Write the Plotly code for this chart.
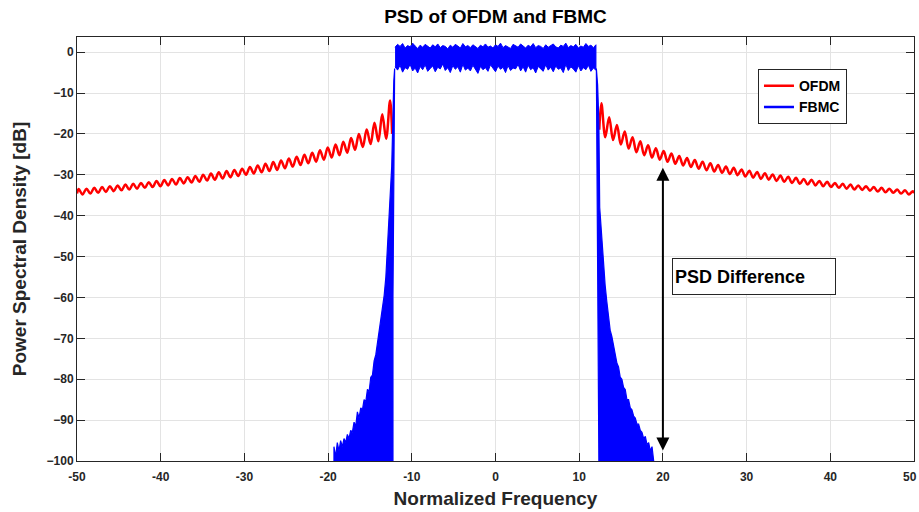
import numpy as np
import plotly.graph_objects as go

# ---------------- data ----------------
# OFDM sidelobe ripple: alternating maxima / minima (dB), listed outward from the band edge
ofdm_left_peaks = [-11.8, -15.2, -17.3, -18.9, -20.0, -21.0, -21.9, -22.6, -23.3, -24.0,
                   -24.6, -25.1, -25.6, -26.0, -26.5, -26.9, -27.3, -27.7, -28.1, -28.5,
                   -28.8, -29.1, -29.4, -29.7, -30.0, -30.3, -30.6, -30.8, -31.0, -31.3,
                   -31.5, -31.8, -32.0, -32.2, -32.4, -32.6, -32.8, -33.0, -33.2, -33.4,
                   -33.5]
ofdm_left_troughs = [-21.2, -21.8, -22.5, -23.2, -23.9, -24.6, -25.2, -25.8, -26.3, -26.8,
                     -27.2, -27.6, -28.0, -28.4, -28.8, -29.1, -29.4, -29.7, -30.0, -30.3,
                     -30.6, -30.9, -31.2, -31.4, -31.7, -31.9, -32.1, -32.4, -32.6, -32.8,
                     -33.0, -33.2, -33.4, -33.6, -33.8, -34.0, -34.2, -34.4, -34.6, -34.8]
ofdm_right_peaks = [-12.5, -15.9, -17.8, -19.4, -20.8, -21.8, -22.8, -23.5, -24.2, -24.8,
                    -25.4, -25.9, -26.4, -26.8, -27.2, -27.6, -28.0, -28.3, -28.7, -29.0,
                    -29.3, -29.6, -29.9, -30.2, -30.5, -30.7, -31.0, -31.2, -31.5, -31.7,
                    -32.0, -32.2, -32.4, -32.6, -32.8, -33.0, -33.2, -33.4, -33.6, -33.8,
                    -34.0]
ofdm_right_troughs = [-20.8, -21.5, -22.6, -23.6, -24.5, -25.2, -25.8, -26.3, -26.8, -27.3,
                      -27.7, -28.1, -28.5, -28.9, -29.2, -29.5, -29.8, -30.1, -30.4, -30.7,
                      -31.0, -31.2, -31.5, -31.7, -32.0, -32.2, -32.4, -32.6, -32.8, -33.0,
                      -33.2, -33.4, -33.6, -33.7, -33.9, -34.1, -34.3, -34.4, -34.6, -34.8]
# end points of each OFDM sidelobe branch: (frequency, dB)
ofdm_left_ends = [(-50.0, -34.6), (-12.35, -20.0)]
ofdm_right_ends = [(12.4, -19.0), (50.0, -34.5)]

# FBMC in-band fluctuation: upper and lower extent (dB) across the occupied band
fbmc_band_upper = [1.2, 1.9, 1.4, 2.1, 1.0, 1.6, 1.3, 2.2, 1.5, 0.9,
                   1.7, 1.2, 1.9, 1.4, 1.0, 1.8, 1.3, 2.0, 1.1, 1.6,
                   1.4, 0.8, 1.7, 1.2, 1.9, 1.5, 1.0, 2.1, 1.3, 1.6,
                   1.1, 1.8, 1.4, 0.9, 1.7, 1.3, 2.0, 1.2, 1.5, 1.0,
                   1.8, 1.4, 2.2, 1.1, 1.6, 1.3, 0.9, 1.9, 1.5, 1.2,
                   2.0, 1.4, 1.0, 1.7, 1.3, 2.1, 1.1, 1.6, 1.4, 0.9,
                   1.8, 1.2, 1.5, 2.0, 1.3, 1.0, 1.7, 1.4, 2.2, 1.1,
                   1.6, 1.3, 1.9, 1.0, 1.5, 1.2, 2.1, 1.4, 1.7, 1.1,
                   1.8]
fbmc_band_lower = [-3.6, -4.4, -3.2, -4.9, -3.8, -4.2, -3.0, -4.6, -3.9, -5.1,
                   -3.5, -4.3, -3.1, -4.7, -4.0, -3.4, -4.8, -3.7, -4.1, -2.9,
                   -4.5, -3.8, -5.0, -3.3, -4.2, -3.6, -4.9, -3.0, -4.4, -3.9,
                   -4.6, -3.2, -4.1, -5.2, -3.5, -4.3, -3.8, -4.7, -3.1, -4.0,
                   -4.8, -3.4, -4.2, -3.7, -5.0, -3.3, -4.5, -3.9, -4.1, -3.0,
                   -4.6, -3.6, -4.9, -3.2, -4.3, -3.8, -5.1, -3.5, -4.0, -4.7,
                   -3.1, -4.4, -3.7, -4.8, -3.4, -4.2, -3.9, -5.0, -3.0, -4.5,
                   -3.6, -4.1, -4.9, -3.3, -4.6, -3.8, -4.3, -3.2, -4.7, -3.9,
                   -4.4]

# FBMC out-of-band skirt maxima (dB)
fbmc_left_skirt = [-96.5, -99.0, -95.5, -97.5, -95.0, -96.5, -94.5, -95.5, -93.5, -94.5,
                   -92.5, -93.0, -90.5, -91.5, -88.0, -89.5, -87.0, -87.5, -85.0, -85.5,
                   -82.5, -83.0, -79.5, -79.0, -75.5, -74.0, -71.0, -68.5, -66.0, -63.0,
                   -59.5, -55.0, -48.0]
fbmc_right_skirt = [-52.5, -57.0, -61.0, -64.5, -68.0, -69.5, -72.0, -73.5, -76.0, -77.0,
                    -79.5, -80.0, -82.0, -82.5, -85.0, -85.0, -87.0, -87.5, -89.0, -89.5,
                    -91.0, -91.0, -92.5, -93.0, -94.5, -94.0, -96.0, -95.5, -97.5, -96.5,
                    -99.5]
# band-edge transitions of FBMC: (frequency, dB)
fbmc_left_edge = [(-12.4, -28.0), (-12.15, -7.0), (-12.05, -4.0), (-12.25, -60.0)]
fbmc_right_edge = [(12.05, -4.0), (12.2, -8.0), (12.35, -17.0), (12.45, -38.0)]

x_ticks = list(range(-50, 51, 10))
y_ticks = list(range(-100, 1, 10))

# ---------------- frequency grids ----------------
RIPPLE = 0.93
band_x = np.round(np.arange(-12.0, 12.0001, 0.3), 3)
left_skirt_x = np.round(np.arange(-19.3, -12.85, 0.2), 3)
right_skirt_x = np.round(np.arange(12.9, 18.95, 0.2), 3)


def ofdm_branch(edge, sign, peaks, troughs, ends):
    """Interleave ripple maxima/minima for one side of the spectrum."""
    pts = list(ends)
    for k, v in enumerate(peaks):
        pts.append((sign * (edge + RIPPLE * k), v))
    for k, v in enumerate(troughs):
        pts.append((sign * (edge + RIPPLE * (k + 0.5)), v))
    pts.sort(key=lambda p: p[0])
    return [p[0] for p in pts], [p[1] for p in pts]


RED = "#ff0000"
BLUE = "#0000ff"
INK = "#262626"
FONT = "Liberation Sans, Arial, sans-serif"

fig = go.Figure()

lx, ly = ofdm_branch(12.6, -1, ofdm_left_peaks, ofdm_left_troughs, ofdm_left_ends)
rx, ry = ofdm_branch(12.65, 1, ofdm_right_peaks, ofdm_right_troughs, ofdm_right_ends)
fig.add_trace(go.Scatter(x=lx, y=ly, mode="lines", name="OFDM", legendgroup="ofdm",
                         line=dict(color=RED, width=2.5, shape="spline", smoothing=1.0)))
fig.add_trace(go.Scatter(x=rx, y=ry, mode="lines", name="OFDM", legendgroup="ofdm",
                         showlegend=False,
                         line=dict(color=RED, width=2.5, shape="spline", smoothing=1.0)))

# FBMC left skirt
sx = [left_skirt_x[0]] + list(left_skirt_x) + [p[0] for p in fbmc_left_edge] + [-12.25]
sy = [-100.0] + fbmc_left_skirt + [p[1] for p in fbmc_left_edge] + [-100.0]
fig.add_trace(go.Scatter(x=sx, y=sy, mode="lines", fill="toself", fillcolor=BLUE,
                         line=dict(color=BLUE, width=1.2), name="FBMC",
                         legendgroup="fbmc", showlegend=False))

# FBMC right skirt
sx = [12.35] + [p[0] for p in fbmc_right_edge] + list(right_skirt_x) + [right_skirt_x[-1], 12.35]
sy = [-100.0] + [p[1] for p in fbmc_right_edge] + fbmc_right_skirt + [-100.0, -100.0]
fig.add_trace(go.Scatter(x=sx, y=sy, mode="lines", fill="toself", fillcolor=BLUE,
                         line=dict(color=BLUE, width=1.2), name="FBMC",
                         legendgroup="fbmc", showlegend=False))

# FBMC occupied band
bx = list(band_x) + list(band_x[::-1])
by = fbmc_band_upper + fbmc_band_lower[::-1]
fig.add_trace(go.Scatter(x=bx, y=by, mode="lines", fill="toself", fillcolor=BLUE,
                         line=dict(color=BLUE, width=1), name="FBMC",
                         legendgroup="fbmc", showlegend=False))

# legend entry for FBMC
fig.add_trace(go.Scatter(x=[None], y=[None], mode="lines", name="FBMC",
                         legendgroup="fbmc", line=dict(color=BLUE, width=2.5)))

# double-headed arrow marking the PSD gap at f = 20
fig.add_annotation(x=20, y=-28.3, ax=20, ay=-97.8, xref="x", yref="y",
                   axref="x", ayref="y", text="", showarrow=True,
                   arrowside="end+start", arrowhead=2, startarrowhead=2,
                   arrowsize=1.3, startarrowsize=1.3, arrowwidth=2, arrowcolor="#000000")

fig.add_annotation(x=0.7108, y=0.4348, xref="paper", yref="paper",
                   xanchor="left", yanchor="middle", showarrow=False,
                   text="<b>PSD Difference</b>", align="left", width=158, height=31,
                   font=dict(family=FONT, size=18, color="#000000"),
                   bordercolor=INK, borderwidth=1, borderpad=2, bgcolor="#ffffff")

TICK_FONT = dict(family=FONT, size=12, color=INK, weight="bold")

# the last x tick label sits at the figure edge: keep it fully inside the page
x_ticktext = [str(v) for v in x_ticks[:-1]] + [""]
fig.add_annotation(x=1.0055, y=-0.038, xref="paper", yref="paper",
                   xanchor="right", yanchor="middle", showarrow=False,
                   text=str(x_ticks[-1]), font=TICK_FONT)

axis_common = dict(
    showgrid=True, gridcolor="#e3e3e3", gridwidth=1, zeroline=False,
    showline=True, linecolor=INK, linewidth=1, mirror="ticks",
    ticks="inside", ticklen=8, tickcolor=INK, tickwidth=1,
    automargin=False, tickfont=TICK_FONT,
)

fig.update_layout(
    width=919, height=512,
    margin=dict(l=77, r=5, t=37, b=51),
    paper_bgcolor="#ffffff", plot_bgcolor="#ffffff",
    title=dict(text="<b>PSD of OFDM and FBMC</b>", x=0.5, xref="paper", xanchor="center",
               y=1 - 16 / 512, yanchor="middle",
               font=dict(family=FONT, size=19, color="#000000")),
    xaxis=dict(range=[-50, 50], tickvals=x_ticks, ticktext=x_ticktext,
               ticklabelstandoff=5,
               title=dict(text="<b>Normalized Frequency</b>", standoff=8,
                          font=dict(family=FONT, size=19, color=INK)),
               **axis_common),
    yaxis=dict(range=[-100, 3.7], tickvals=y_ticks,
               title=dict(text="<b>Power Spectral Density [dB]</b>", standoff=14,
                          font=dict(family=FONT, size=19, color=INK)),
               **axis_common),
    legend=dict(x=0.8136, y=0.924, xanchor="left", yanchor="top",
                bgcolor="#ffffff", bordercolor=INK, borderwidth=1,
                font=dict(family=FONT, size=14, color="#000000", weight="bold"),
                itemwidth=30, tracegroupgap=0),
    showlegend=True,
)

fig.write_html("out.html")
